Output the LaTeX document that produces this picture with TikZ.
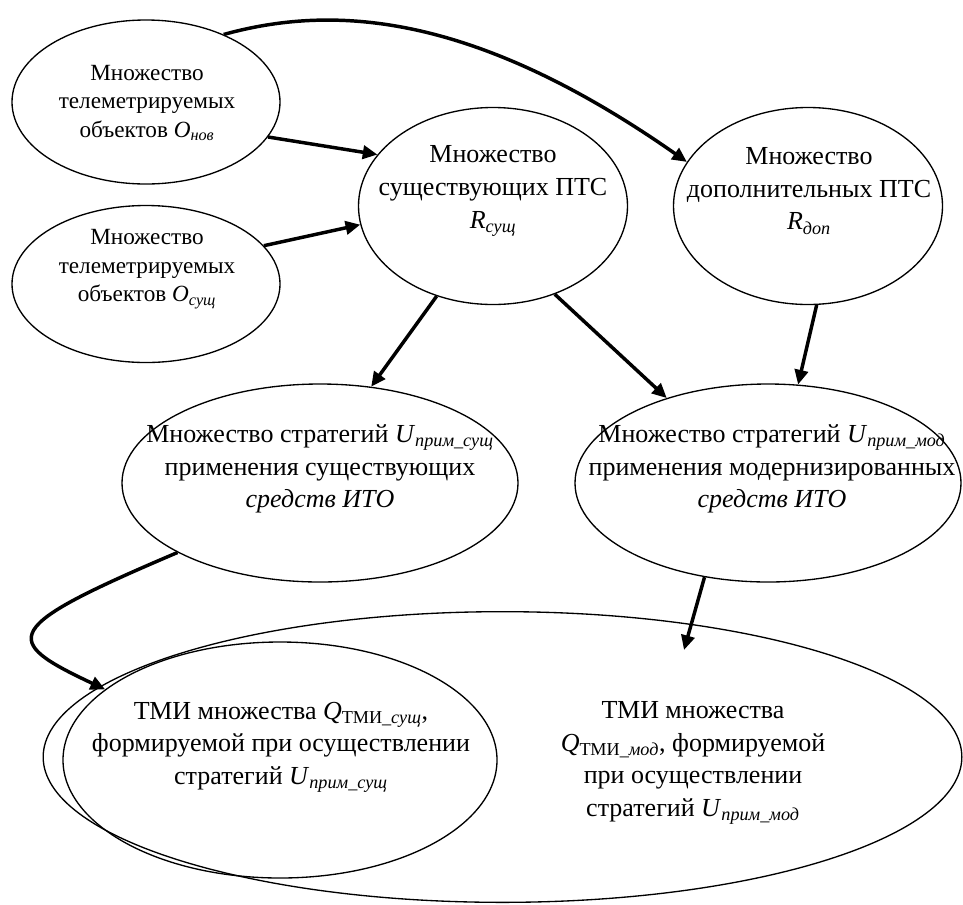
\documentclass[tikz,border=0pt]{standalone}
\usepackage{fontspec}
\setmainfont{Liberation Serif}
\usetikzlibrary{shapes.geometric,arrows.meta}
\tikzset{
  ell/.style={draw, ellipse, line width=1pt, inner sep=0pt},
  lbl/.style={align=center, inner sep=0pt, font=\fontsize{19.5}{24.4}\selectfont},
  lbls/.style={align=center, inner sep=0pt, font=\fontsize{17.4}{21.5}\selectfont},
  arr/.style={line width=2.6pt, -{Triangle[length=11pt,width=10pt]}},
}
\newcommand{\sub}[1]{\textsubscript{\textit{#1}}}
\begin{document}
\begin{tikzpicture}[x=0.75pt,y=-0.75pt]
\useasboundingbox (0,0) rectangle (963,904);
% ellipses
\node[ell, minimum width=201pt, minimum height=123pt] (e1) at (146,102) {};
\node[ell, minimum width=201pt, minimum height=117.75pt] (e2) at (146,284) {};
\node[ell, minimum width=201.75pt, minimum height=147.75pt] (e3) at (493,206) {};
\node[ell, minimum width=201.75pt, minimum height=147.75pt] (e4) at (808,206) {};
\node[ell, minimum width=297pt, minimum height=148.5pt] (e5) at (320,483) {};
\node[ell, minimum width=289.5pt, minimum height=148.5pt] (e6) at (768,483) {};
\node[ell, minimum width=689pt, minimum height=218pt] (e7) at (502.5,757) {};
\node[ell, minimum width=325.5pt, minimum height=177pt] (e8) at (280,760) {};
% texts
\node[lbls] (t1) at (147,103) {Множество\\телеметрируемых\\объектов \textit{O}\sub{нов}};
\node[lbls] (t2) at (147,269) {Множество\\телеметрируемых\\объектов \textit{O}\sub{сущ}};
\node[lbl] (t3) at (493,191) {Множество\\существующих ПТС\\\textit{R}\sub{сущ}};
\node[lbl] (t4) at (809,191) {Множество\\дополнительных ПТС\\\textit{R}\sub{доп}};
\node[lbl] (t5) at (320,469) {Множество стратегий \textit{U}\sub{прим\_сущ}\\применения существующих\\\textit{средств ИТО}};
\node[lbl] (t6) at (772,469) {Множество стратегий \textit{U}\sub{прим\_мод}\\применения модернизированных\\\textit{средств ИТО}};
\node[lbl] (t8) at (281,747) {ТМИ множества \textit{Q}\textsubscript{ТМИ\textit{\_сущ}},\\формируемой при осуществлении\\стратегий \textit{U}\sub{прим\_сущ}};
\node[lbl] (t7) at (693,763) {ТМИ множества\\\textit{Q}\textsubscript{ТМИ\textit{\_мод}}, формируемой\\при осуществлении\\стратегий \textit{U}\sub{прим\_мод}};
% connectors
\coordinate (q7) at (684,650);
\draw[arr] (e1.-16) -- (e3.156.6);
\draw[arr] (e2.18.9) -- (e3.-172.5);
\draw[arr] (e1.41.4) .. controls (330,5) and (470,10) .. (e4.160);
\draw[arr] (e3.-122.6) -- (e5.62);
\draw[arr] (e3.-55) -- (e6.140.5);
\draw[arr] (e4.-85.4) -- (e6.73.8);
\draw[arr] (e5.-154.2) .. controls (0,628) and (0,640) .. (e8.158.2);
\draw[arr] (e6.-124.9) -- (q7);
\end{tikzpicture}
\end{document}
